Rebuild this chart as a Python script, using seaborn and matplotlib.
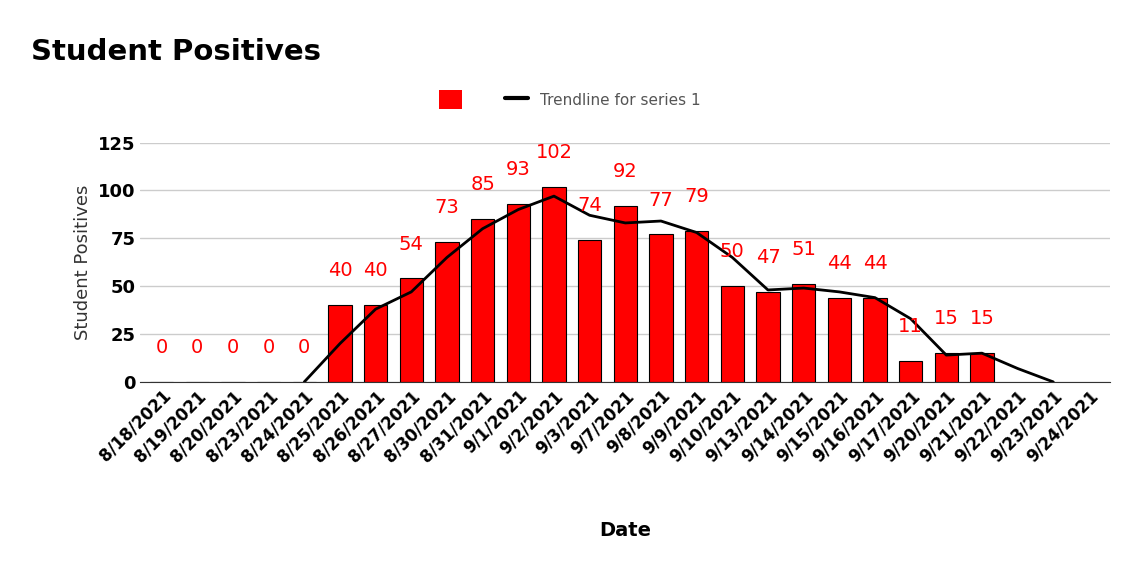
import numpy as np
import matplotlib
matplotlib.use("Agg")
import matplotlib.pyplot as plt
import pandas as pd
import seaborn as sns
from matplotlib.patches import Patch
from matplotlib.lines import Line2D

dates = ["8/18/2021", "8/19/2021", "8/20/2021", "8/23/2021", "8/24/2021", "8/25/2021",
         "8/26/2021", "8/27/2021", "8/30/2021", "8/31/2021", "9/1/2021", "9/2/2021",
         "9/3/2021", "9/7/2021", "9/8/2021", "9/9/2021", "9/10/2021", "9/13/2021",
         "9/14/2021", "9/15/2021", "9/16/2021", "9/17/2021", "9/20/2021", "9/21/2021",
         "9/22/2021", "9/23/2021", "9/24/2021"]
positives = [0, 0, 0, 0, 0, 40, 40, 54, 73, 85, 93, 102, 74, 92, 77, 79, 50, 47,
             51, 44, 44, 11, 15, 15, np.nan, np.nan, np.nan]

trend_dates = dates[4:26]
trend_vals = [0, 20, 38, 47, 65, 80, 90, 97, 87, 83, 84, 78, 65, 48, 49, 47, 44,
              33, 14, 15, 7, 0]

sns.set_style("white")
fig = plt.figure(figsize=(11.4, 5.7), dpi=100)
ax = fig.add_axes([0.123, 0.33, 0.851, 0.42])

df = pd.DataFrame({"Date": dates, "Student Positives": positives})
sns.barplot(data=df, x="Date", y="Student Positives", order=dates, color="#ff0000",
            saturation=1, edgecolor="black", linewidth=0.8, width=0.65, ax=ax)
sns.lineplot(x=trend_dates, y=trend_vals, sort=False, color="black", linewidth=2, ax=ax)

for i, v in enumerate(positives):
    if not np.isnan(v):
        ax.text(i, v + 13, f"{int(v)}", color="#ff0000", ha="center", va="bottom", fontsize=14)

ax.set_ylim(0, 125)
ax.set_yticks([0, 25, 50, 75, 100, 125])
ax.yaxis.grid(True, color="#cccccc", linewidth=1)
ax.set_axisbelow(True)
for s in ["top", "right", "left"]:
    ax.spines[s].set_visible(False)
ax.spines["bottom"].set_color("#333333")
ax.tick_params(axis="both", colors="black", length=0)
ax.set_xlim(-0.6, len(dates) - 0.4)
plt.setp(ax.get_xticklabels(), rotation=45, ha="right", rotation_mode="anchor",
         fontweight="bold", fontsize=12, color="black")
plt.setp(ax.get_yticklabels(), fontweight="bold", fontsize=13, color="black")
ax.set_xlabel("Date", fontweight="bold", fontsize=14, labelpad=40, color="black")
ax.set_ylabel("Student Positives", fontsize=13, color="#333333")

fig.text(0.027, 0.895, "Student Positives", fontsize=21, fontweight="bold", color="black")
handles = [Patch(facecolor="#ff0000", edgecolor="none"),
           Line2D([], [], color="black", linewidth=3)]
fig.legend(handles, ["", "Trendline for series 1"], loc="center", bbox_to_anchor=(0.5, 0.825),
           ncol=2, frameon=False, fontsize=11, labelcolor="#555555", handlelength=1.5,
           handleheight=1.5)

fig.savefig("out.png", dpi=100)
